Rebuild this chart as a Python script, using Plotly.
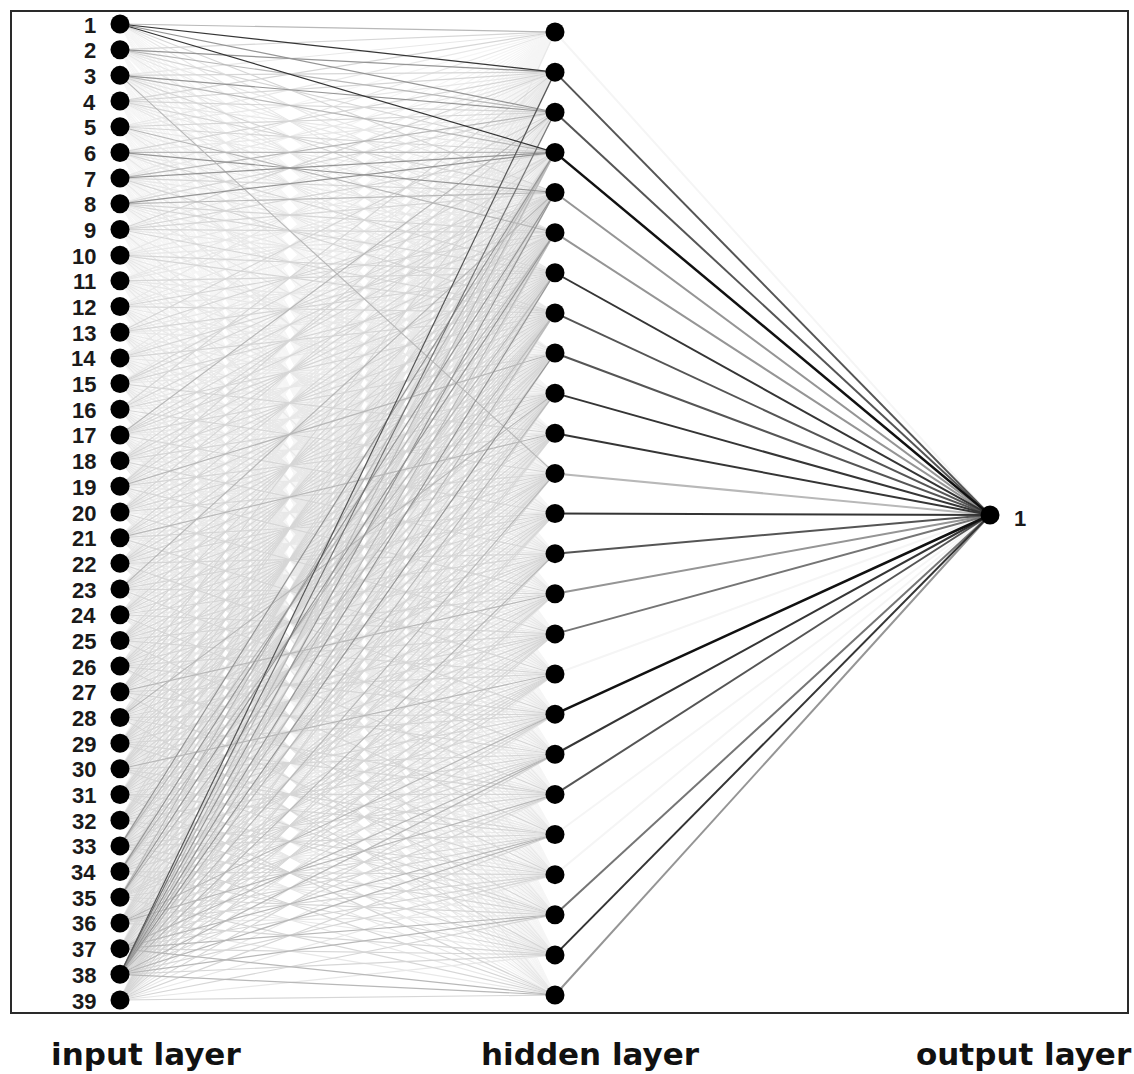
import numpy as np
import plotly.graph_objects as go

# ---------------- data ----------------
input_labels = [str(i) for i in range(1, 40)]
hidden_count = 25
output_labels = ["1"]
layer_titles = ["input layer", "hidden layer", "output layer"]

# grey level of each input -> hidden connection, one string per input node,
# one digit per hidden node (0 = invisible ... 9 = black)
w_input_hidden = [
    "4858322111111101010101000",
    "3543221211110011010100100",
    "2354232121141101101010010",
    "3332322211111010110101001",
    "2233242121211101011010100",
    "1324523211121110101101010",
    "2245322312111211010110101",
    "1235433221212111101011010",
    "1323332311211121110101101",
    "1212223312121211211010110",
    "1122213221212121121101011",
    "1212232312121212112110101",
    "1131323221212121211211010",
    "1212232312121212121121101",
    "1123323221312121212112110",
    "1312322322131212121211211",
    "1142333232213121212121121",
    "1213232323221312121212112",
    "1232323242322131212121211",
    "1213232323232213121212121",
    "1121323232423221312121212",
    "1212232323232322131212121",
    "1121423232323232213121212",
    "1212232323232323221312121",
    "1121323232323232322131212",
    "1212232323232323232213121",
    "1131323232323242323221312",
    "1212232324232323232322131",
    "1121323233232323232323221",
    "1213232332323232423232322",
    "1122323323232323232332323",
    "1213232332323232323223232",
    "1125343323232323232332323",
    "1223534332323232323223232",
    "1124353423232323333232323",
    "1213232323232323343433232",
    "1122323232323232334343434",
    "2764545454343433334343434",
    "1223232323232323223232323",
]
# grey level of each hidden -> output connection
w_hidden_output = [1, 7, 7, 9, 5, 5, 8, 7, 7, 8, 8, 4, 8, 7, 5, 6, 1, 9, 8, 7, 1, 1, 6, 8, 5]

# ---------------- styling ----------------
GREY = {1: "#f5f5f5", 2: "#e8e8e8", 3: "#d6d6d6", 4: "#b8b8b8", 5: "#959595",
        6: "#757575", 7: "#555555", 8: "#353535", 9: "#111111"}
W, H = 1134, 1074
layer_x = [120, 555, 990]
in_y = np.linspace(24, 1000, len(input_labels))
hid_y = np.linspace(32, 995, hidden_count)
out_y = np.array([515.0])

fig = go.Figure()

# input -> hidden edges grouped by grey level (light first)
for lvl in range(1, 10):
    xs, ys = [], []
    for i, row in enumerate(w_input_hidden):
        for j, ch in enumerate(row[:hidden_count]):
            if int(ch) == lvl:
                xs += [layer_x[0], layer_x[1], None]
                ys += [in_y[i], hid_y[j], None]
    if xs:
        fig.add_trace(go.Scatter(x=xs, y=ys, mode="lines",
                                 line=dict(color=GREY[lvl], width=1.2),
                                 hoverinfo="skip", showlegend=False))

# hidden -> output edges
order = sorted(range(hidden_count), key=lambda j: w_hidden_output[j])
for j in order:
    lvl = w_hidden_output[j]
    fig.add_trace(go.Scatter(x=[layer_x[1], layer_x[2]], y=[hid_y[j], out_y[0]],
                             mode="lines",
                             line=dict(color=GREY[lvl], width=2.0 if lvl < 9 else 2.5),
                             hoverinfo="skip", showlegend=False))

# nodes
for lx, ly in [(layer_x[0], in_y), (layer_x[1], hid_y), (layer_x[2], out_y)]:
    fig.add_trace(go.Scatter(x=[lx] * len(ly), y=ly, mode="markers",
                             marker=dict(size=19, color="black", line=dict(width=0)),
                             hoverinfo="skip", showlegend=False))

annotations = []
for i, lab in enumerate(input_labels):
    annotations.append(dict(x=layer_x[0] - 22, y=in_y[i] + 1, text="<b>%s</b>" % lab,
                            xanchor="right", yanchor="middle", showarrow=False,
                            font=dict(family="Liberation Sans", size=22, color="#1a1a1a")))
annotations.append(dict(x=layer_x[2] + 22, y=out_y[0] + 3, text="<b>%s</b>" % output_labels[0],
                        xanchor="left", yanchor="middle", showarrow=False,
                        font=dict(family="Liberation Sans", size=22, color="#1a1a1a")))
for lx, t in zip([146, 590, 1024], layer_titles):
    annotations.append(dict(x=lx, y=1054, text="<b>%s</b>" % t, xanchor="center",
                            yanchor="middle", showarrow=False,
                            font=dict(family="DejaVu Sans", size=31, color="#111")))

fig.update_layout(
    width=W, height=H,
    margin=dict(l=0, r=0, t=0, b=0),
    paper_bgcolor="white", plot_bgcolor="white",
    xaxis=dict(range=[0, W], visible=False, fixedrange=True),
    yaxis=dict(range=[H, 0], visible=False, fixedrange=True),
    annotations=annotations,
    shapes=[dict(type="rect", xref="x", yref="y", x0=11, y0=11, x1=1128, y1=1013,
                 line=dict(color="#2a2a2a", width=2), layer="above")],
    hovermode=False,
)

fig.write_html("out.html", config={"displayModeBar": False},
               post_script="document.body.style.margin='0';document.body.style.padding='0';")
